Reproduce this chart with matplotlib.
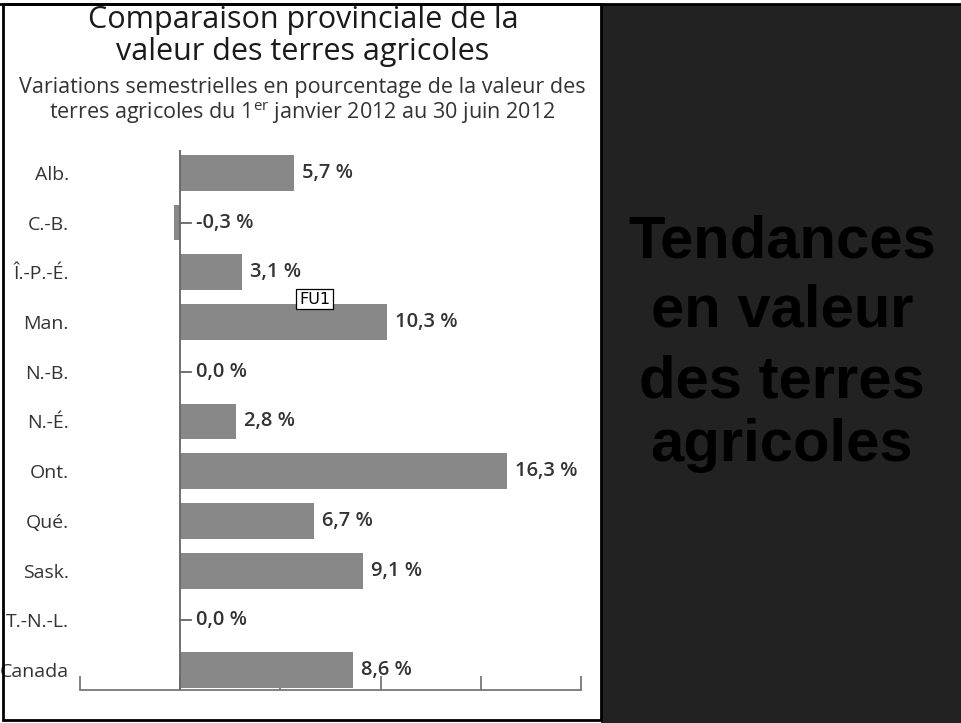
import matplotlib.pyplot as plt
from matplotlib.patches import Rectangle

provinces = ['Alb.', 'C.-B.', 'Î.-P.-É.', 'Man.', 'N.-B.', 'N.-É.', 'Ont.', 'Qué.', 'Sask.', 'T.-N.-L.', 'Canada']
values = [5.7, -0.3, 3.1, 10.3, 0.0, 2.8, 16.3, 6.7, 9.1, 0.0, 8.6]
labels = ['5,7 %', '-0,3 %', '3,1 %', '10,3 %', '0,0 %', '2,8 %', '16,3 %', '6,7 %', '9,1 %', '0,0 %', '8,6 %']
x_ticks = [-5, 0, 5, 10, 15, 20]
side_title = ['Tendances', 'en valeur', 'des terres', 'agricoles']

W, H = 961, 723
fig = plt.figure(figsize=(W / 100, H / 100), dpi=100)
fig.patch.set_facecolor('white')

# dark right panel + border of left panel
fig.patches.append(Rectangle((601 / W, 0), 360 / W, 719 / H, transform=fig.transFigure,
                             facecolor='#222222', edgecolor='none', zorder=0))
fig.patches.append(Rectangle((3 / W, 3 / H), 598 / W, 716 / H, transform=fig.transFigure,
                             facecolor='none', edgecolor='black', linewidth=2, zorder=5))
fig.add_artist(plt.Line2D([0, 1], [719 / H, 719 / H], transform=fig.transFigure, color='black', linewidth=2))

txt = '#333333'
bar_col = '#888888'
ff = 'Open Sans'

# titles
fig.text(303 / W, 1 - 20 / H, 'Comparaison provinciale de la', ha='center', va='center',
         fontsize=22, family=ff, color='#1a1a1a')
fig.text(303 / W, 1 - 52 / H, 'valeur des terres agricoles', ha='center', va='center',
         fontsize=22, family=ff, color='#1a1a1a')
fig.text(302 / W, 1 - 88 / H, 'Variations semestrielles en pourcentage de la valeur des', ha='center',
         va='center', fontsize=15.5, family=ff, color=txt)
fig.text(302 / W, 1 - 113 / H, 'terres agricoles du 1$^{\\mathregular{er}}$ janvier 2012 au 30 juin 2012',
         ha='center', va='center', fontsize=15.5, family=ff, color=txt)

# right panel title, one line at a time (baselines)
for line, base in zip(side_title, [257, 327, 397, 461]):
    fig.text(782 / W, 1 - base / H, line, ha='center', va='baseline',
             fontsize=43, fontweight='bold', family='Liberation Sans', color='black')

ax = fig.add_axes([80 / W, 33 / H, 501 / W, 540 / H])
ax.set_facecolor('none')
y = list(range(len(provinces)))
ax.barh(y, values, height=0.72, color=bar_col, zorder=2)
for i, (v, lab) in enumerate(zip(values, labels)):
    if v <= 0:
        ax.plot([0, 0.55], [i, i], color='#666666', linewidth=1.3, zorder=3)
        ax.text(0.8, i, lab, ha='left', va='center', fontsize=14.5, fontweight='semibold',
                family=ff, color=txt)
    else:
        ax.text(v + 0.4, i, lab, ha='left', va='center', fontsize=14.5, fontweight='semibold',
                family=ff, color=txt)

ax.axvline(0, color='#666666', linewidth=1.3, zorder=3)
ax.set_xlim(-5, 20)
ax.set_ylim(10.40, -0.46)
ax.set_yticks(y)
ax.set_yticklabels(provinces, fontsize=14, family=ff, color=txt)
ax.tick_params(axis='y', length=0, pad=8)
ax.set_xticks(x_ticks)
ax.set_xticklabels([])
ax.tick_params(axis='x', direction='in', length=10, width=1.3, color='#777777')
for s in ['top', 'right', 'left']:
    ax.spines[s].set_visible(False)
ax.spines['bottom'].set_color('#777777')
ax.spines['bottom'].set_linewidth(1.3)

# FU1 marker
fig.text(314.5 / W, 1 - 299 / H, 'FU1', ha='center', va='center', fontsize=11.5, family='DejaVu Sans',
         color='black', bbox=dict(boxstyle='square,pad=0.18', facecolor='white', edgecolor='black', linewidth=0.9),
         zorder=10)

fig.savefig('out.png', dpi=100)
